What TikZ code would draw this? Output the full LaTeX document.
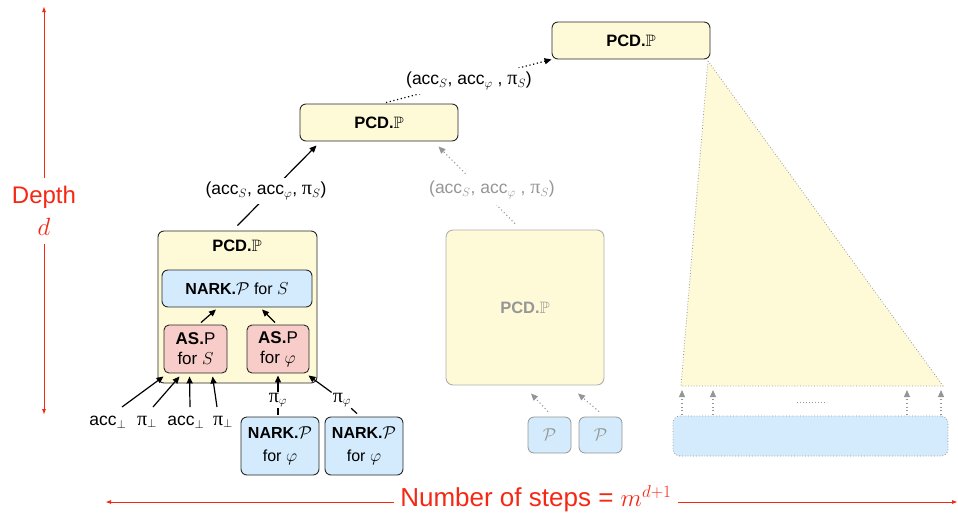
\documentclass[tikz,border=0pt]{standalone}
\usepackage{amssymb}
\usepackage{fontspec}
\setmainfont{Liberation Sans}
\newfontfamily\serifgr[Scale=1.15]{Liberation Serif}
\usetikzlibrary{arrows.meta,calc}
\definecolor{ylw}{RGB}{254,250,216}
\definecolor{blu}{RGB}{211,235,252}
\definecolor{pnk}{RGB}{248,204,200}
\definecolor{edgec}{RGB}{40,40,40}
\definecolor{gry}{RGB}{150,150,150}
\definecolor{gryl}{RGB}{175,175,175}
\definecolor{redx}{RGB}{245,40,20}
\newcommand{\gpi}{{\serifgr π}}
\newcommand{\bbP}{$\mathbb{P}$}
\tikzset{
  every node/.style={font=\fontsize{17.5}{21}\selectfont, inner sep=2pt},
  ttl/.style={font=\fontsize{16.5}{20}\selectfont},
  ybox/.style={draw=edgec, fill=ylw, rounded corners=6pt, line width=0.9pt, align=center},
  bbox/.style={draw=edgec, fill=blu, rounded corners=6pt, line width=0.9pt, align=center, font=\fontsize{16}{23}\selectfont},
  pbox/.style={draw=edgec, fill=pnk, rounded corners=5pt, line width=0.9pt, align=center, font=\fontsize{17}{20}\selectfont},
  gbox/.style={draw=gryl, fill=ylw, rounded corners=7pt, line width=0.9pt, align=center, text=gry},
  gpbox/.style={draw=gry, fill=blu, rounded corners=6pt, line width=0.8pt, text=gry},
  lab/.style={fill=white, inner xsep=3pt, inner ysep=4pt},
  arr/.style={line width=1.2pt, -{Triangle[length=7pt,width=6pt]}},
  darr/.style={line width=1.2pt, dash pattern=on 1.2pt off 2.6pt, -{Triangle[length=7pt,width=6pt]}},
  garr/.style={gry, line width=1.1pt, dash pattern=on 1.1pt off 2.6pt, -{Triangle[length=7pt,width=6pt]}},
  redarr/.style={redx, line width=0.8pt, -{Triangle[length=5pt,width=3.5pt]}},
}
\begin{document}
\begin{tikzpicture}[x=1pt,y=-1pt]
\useasboundingbox (0,0) rectangle (958,520);

% right triangle and blue bar
\coordinate (tb) at (681,386);
\coordinate (tr) at (943,386);
\fill[ylw] (708,61) -- (tb) -- (tr) -- cycle;
\draw[gry, line width=0.8pt, dash pattern=on 0.8pt off 2pt] (708,61) -- (tb) -- (tr) -- cycle;
\node[draw=gry, fill=blu, rounded corners=7pt, line width=0.8pt, dash pattern=on 0.8pt off 2pt, minimum width=275pt, minimum height=40pt, inner sep=0pt] (bar) at (810.5,436) {};
\foreach \xx in {682,713,907,941}{
  \draw[garr] (\xx,415) -- (\xx,390);
}
\coordinate (dl) at (797,402);
\coordinate (dr) at (827,402);
\draw[gry, line width=0.8pt, dash pattern=on 0.8pt off 2.2pt] (dl) -- (dr);

% top boxes
\node[ybox, ttl, minimum width=158pt, minimum height=37pt, inner sep=0pt] (T) at (631,40.5) {\textbf{PCD.}\bbP};
\node[ybox, ttl, minimum width=158pt, minimum height=37pt, inner sep=0pt] (M) at (379,122.5) {\textbf{PCD.}\bbP};

% big box
\node[ybox, minimum width=159pt, minimum height=152pt, inner sep=0pt] (B) at (237.5,307) {};
\node[ttl] (Bt) at (237,246) {\textbf{PCD.}\bbP};
\node[bbox, minimum width=150pt, minimum height=37pt, inner sep=0pt] (NS) at (237,288.5) {\textbf{NARK.}$\mathcal{P}$ for $S$};
\node[pbox, minimum width=63pt, minimum height=48pt, inner sep=0pt] (ASl) at (195.5,349) {\textbf{AS.}$\mathrm{P}$\\for $S$};
\node[pbox, minimum width=62pt, minimum height=48pt, inner sep=0pt] (ASr) at (278,349) {\textbf{AS.}$\mathrm{P}$\\for $\varphi$};
\node[bbox, minimum width=78pt, minimum height=58pt, inner sep=0pt] (N1) at (280,446) {\textbf{NARK.}$\mathcal{P}$\\for $\varphi$};
\node[bbox, minimum width=78pt, minimum height=58pt, inner sep=0pt] (N2) at (364,446) {\textbf{NARK.}$\mathcal{P}$\\for $\varphi$};

\draw[arr] ($(ASl.north)+(5.5,-2)$) -- ($(NS.south)+(-21,2)$);
\draw[arr] ($(ASr.north)+(-3,-2)$) -- ($(NS.south)+(25,2)$);

% inputs
\node (a1) at (108,422) {acc$_\perp$};
\node (p1) at (147,422) {\gpi$_\perp$};
\node (a2) at (186,422) {acc$_\perp$};
\node (p2) at (223,422) {\gpi$_\perp$};
\draw[arr] ($(a1.center)+(14,-15)$) -- ($(ASl.south west)+(0,3)$);
\draw[arr] ($(p1.center)+(6,-15)$) -- ($(ASl.south west)+(16,3)$);
\draw[arr] ($(a2.center)+(4,-15)$) -- ($(ASl.south west)+(26,3)$);
\draw[arr] ($(p2.center)+(-6,-15)$) -- ($(ASl.south west)+(49,3)$);

\node[inner sep=1pt] (f1) at (278,400) {\gpi$_\varphi$};
\node[inner sep=1pt] (f2) at (342,400) {\gpi$_\varphi$};
\draw[line width=1.2pt] ($(N1.north)+(-2,-2)$) -- (f1);
\draw[arr] (f1) -- ($(ASr.south)+(0,2)$);
\draw[line width=1.2pt] ($(N2.north)+(-7,-3)$) -- (f2);
\draw[arr] (f2) -- ($(ASr.south east)+(-1,2)$);

% gray middle
\node[gbox, ttl, minimum width=158pt, minimum height=155pt, inner sep=0pt] (G) at (525,307.5) {\textbf{PCD.}\bbP};
\node[gpbox, minimum width=43pt, minimum height=36pt, inner sep=0pt, font=\fontsize{16}{20}\selectfont] (P1) at (549.5,435) {$\mathcal{P}$};
\node[gpbox, minimum width=43pt, minimum height=36pt, inner sep=0pt, font=\fontsize{16}{20}\selectfont] (P2) at (600.5,435) {$\mathcal{P}$};
\draw[garr] ($(P1.north)+(-1.5,-5)$) -- ($(G.south)+(6,8)$);
\draw[garr] ($(P2.north)+(-1.5,-5)$) -- ($(G.south)+(53,8)$);

% connectors between levels
\draw[arr] ($(B.north)+(0,-5)$) -- ($(M.south west)+(17,4)$);
\node[lab] (L1) at (266,191) {(acc$_S$, acc$_\varphi$, \gpi$_S$)};
\draw[darr] ($(M.north)+(7,-1)$) -- (T.south west);
\node[lab] (L2) at (469,81) {(acc$_S$, acc$_\varphi$ , \gpi$_S$)};
\draw[garr] ($(G.north)+(-10,-6)$) -- ($(M.south east)+(-20,5)$);
\node[lab, text=gry, inner ysep=6pt] (L3) at (492,190) {(acc$_S$, acc$_\varphi$ , \gpi$_S$)};

% red annotations
\node[text=redx, align=center, font=\fontsize{24}{32}\selectfont, inner sep=0pt] (D) at (44,211) {Depth\\$d$};
\draw[redarr] ($(D.north)+(0,-8)$) -- (44,7);
\draw[redarr] ($(D.south)+(0,8)$) -- (44,414);
\node[text=redx, font=\fontsize{26}{30}\selectfont, inner sep=6pt] (NS2) at (536,499) {Number of steps = $m^{d+1}$};
\coordinate (le) at (106,502);
\coordinate (re) at (957,502);
\draw[redarr] (NS2.west |- le) -- (le);
\draw[redarr] (NS2.east |- re) -- (re);
\end{tikzpicture}
\end{document}
